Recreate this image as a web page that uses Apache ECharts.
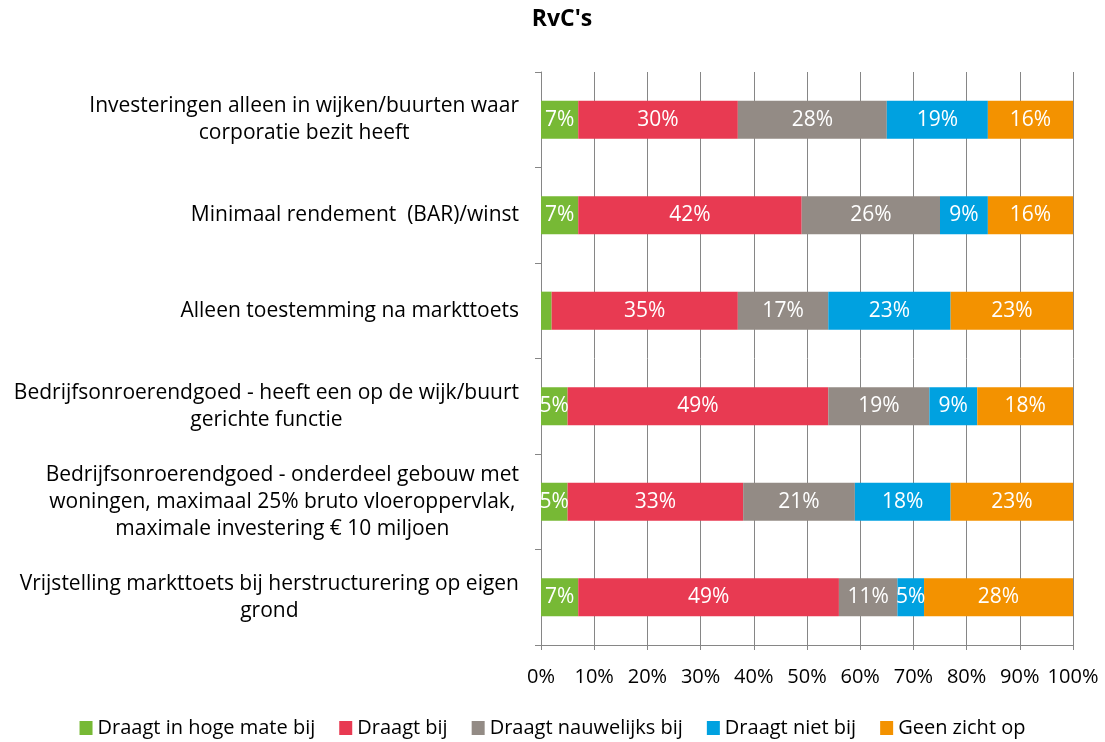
<!DOCTYPE html>
<html><head><meta charset="utf-8">
<script src="https://cdn.jsdelivr.net/npm/echarts@6/dist/echarts.min.js"></script>
<style>html,body{margin:0;padding:0;background:#fff}#c{width:1105px;height:742px}</style>
</head><body><div id="c"></div>
<script>
const categories = [
  "Investeringen alleen in wijken/buurten waar\ncorporatie bezit heeft",
  "Minimaal rendement  (BAR)/winst",
  "Alleen toestemming na markttoets",
  "Bedrijfsonroerendgoed - heeft een op de wijk/buurt\ngerichte functie",
  "Bedrijfsonroerendgoed - onderdeel gebouw met\nwoningen, maximaal 25% bruto vloeroppervlak,\nmaximale investering € 10 miljoen",
  "Vrijstelling markttoets bij herstructurering op eigen\ngrond"
];
const seriesNames = ["Draagt in hoge mate bij", "Draagt bij", "Draagt nauwelijks bij", "Draagt niet bij", "Geen zicht op"];
const hogeMate   = [7, 7, 2, 5, 5, 7];
const draagtBij  = [30, 42, 35, 49, 33, 49];
const nauwelijks = [28, 26, 17, 19, 21, 11];
const nietBij    = [19, 9, 23, 9, 18, 5];
const geenZicht  = [16, 16, 23, 18, 23, 28];
const xTicks = [0,10,20,30,40,50,60,70,80,90,100];
const colors = ["#77b935", "#e83a52", "#938b85", "#00a1e0", "#f39200"];

const FONT = "Open Sans";
const allData = [hogeMate, draagtBij, nauwelijks, nietBij, geenZicht];
const series = allData.map((d, i) => ({
  name: seriesNames[i],
  type: 'bar',
  stack: 'total',
  barWidth: '40%',
  data: d,
  itemStyle: {color: colors[i]},
  label: {
    show: true, position: 'inside', color: '#fff', fontSize: 21, fontFamily: FONT,
    formatter: p => p.value < 3 ? '' : p.value + '%'
  }
}));

const chart = echarts.init(document.getElementById('c'));
chart.setOption({
  animation: false,
  title: {text: "RvC's", left: 557, top: 3, textAlign: 'center',
    textStyle: {fontFamily: FONT, fontSize: 23, fontWeight: 'bold', color: '#000'}},
  grid: {left: 541, right: 32, top: 72, bottom: 97, containLabel: false},
  legend: {
    top: 713, left: 'center', itemWidth: 13, itemHeight: 14, itemGap: 24, icon: 'rect',
    textStyle: {fontFamily: FONT, fontSize: 20, color: '#000'},
    data: seriesNames
  },
  xAxis: {
    type: 'value', min: 0, max: 100, interval: 10,
    axisLine: {show: true, lineStyle: {color: '#868686'}},
    axisTick: {show: true, length: 5, lineStyle: {color: '#868686'}},
    splitLine: {show: true, lineStyle: {color: '#868686', width: 1}},
    axisLabel: {fontFamily: FONT, fontSize: 20, color: '#000', margin: 22,
      formatter: v => xTicks.includes(v) ? v + '%' : ''}
  },
  yAxis: {
    type: 'category', inverse: true, data: categories,
    axisLine: {show: true, lineStyle: {color: '#868686'}},
    axisTick: {show: true, length: 6, lineStyle: {color: '#868686'}},
    axisLabel: {
      fontFamily: FONT, fontSize: 21, color: '#000', margin: 22, align: 'right',
      lineHeight: 27,
      formatter: v => v.split('\n').map(l => '{c|' + l + '}').join('\n'),
      rich: {c: {align: 'center', fontFamily: FONT, fontSize: 21, color: '#000', lineHeight: 27}}
    }
  },
  series: series
});
</script></body></html>
